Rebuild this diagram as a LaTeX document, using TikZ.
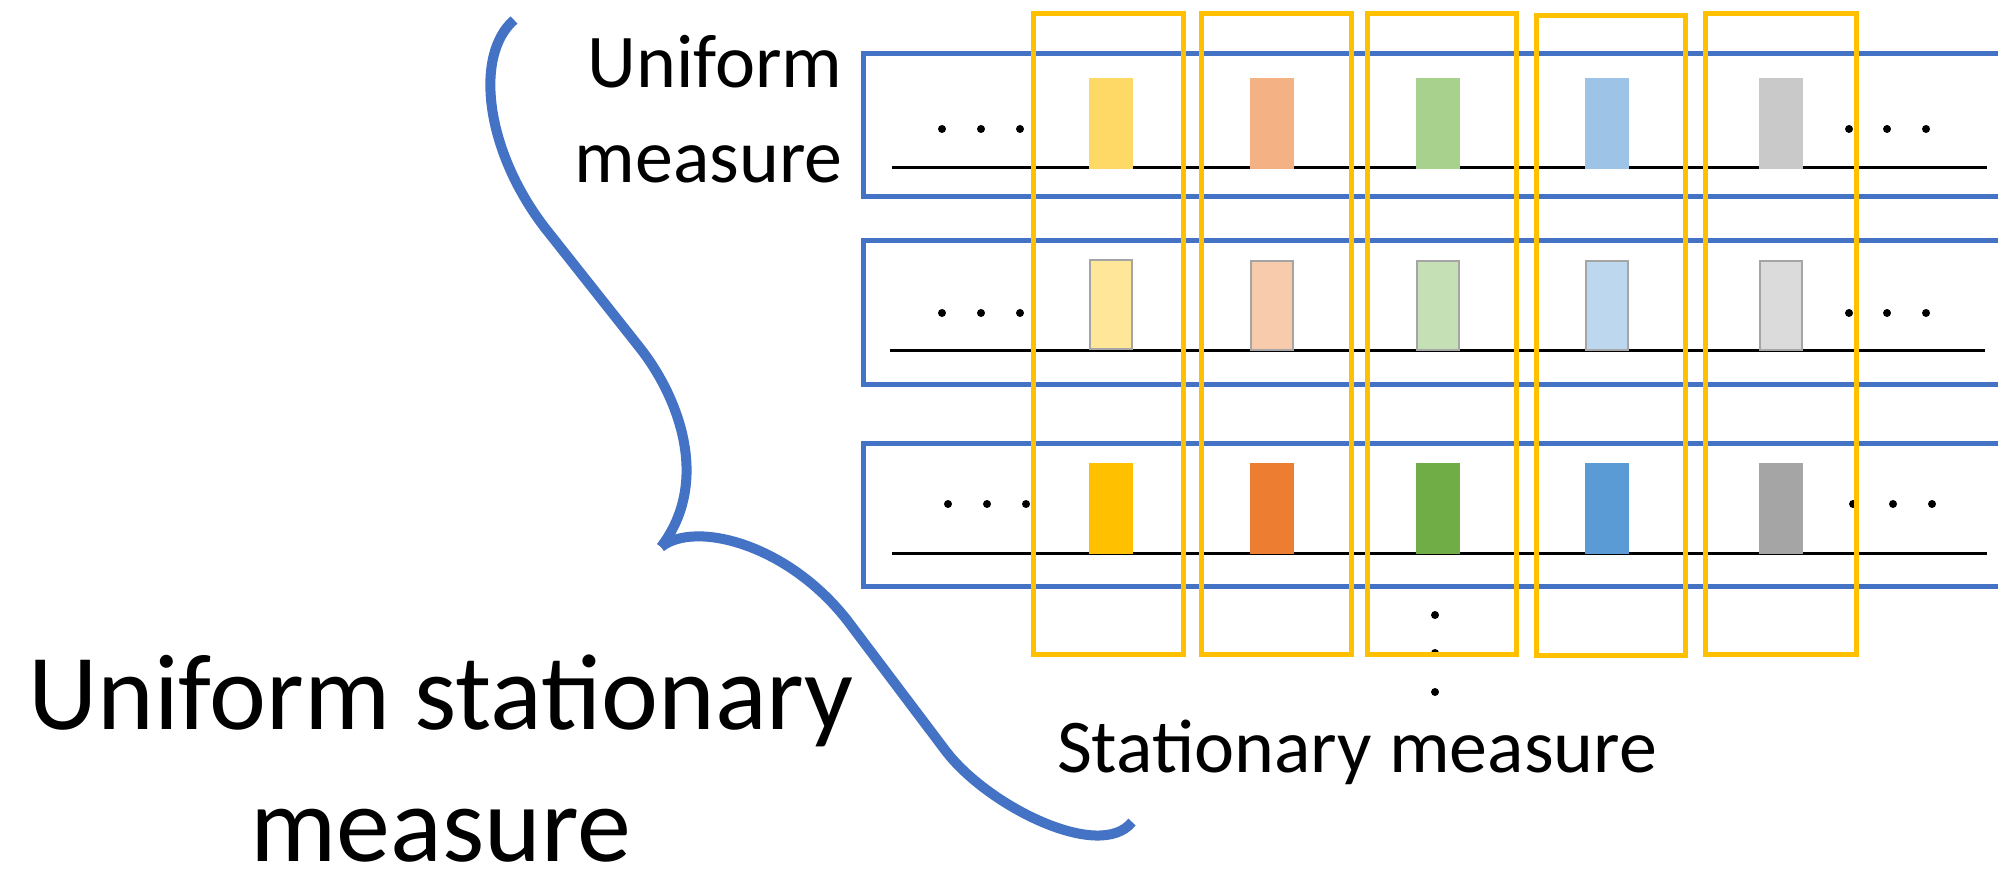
\documentclass[tikz,border=0pt]{standalone}
\usepackage{fontspec}
\setmainfont{Carlito}
\usepackage{tikz}
\usetikzlibrary{positioning}

\definecolor{rowblue}{HTML}{4472C4}
\definecolor{colgold}{HTML}{FFC000}
\definecolor{yelA}{HTML}{FFD966}
\definecolor{oraA}{HTML}{F4B183}
\definecolor{greA}{HTML}{A9D18E}
\definecolor{bluA}{HTML}{9DC3E6}
\definecolor{gryA}{HTML}{C9C9C9}
\definecolor{yelB}{HTML}{FFE699}
\definecolor{oraB}{HTML}{F8CBAD}
\definecolor{greB}{HTML}{C5E0B4}
\definecolor{bluB}{HTML}{BDD7EE}
\definecolor{gryB}{HTML}{DBDBDB}
\definecolor{yelC}{HTML}{FFC000}
\definecolor{oraC}{HTML}{ED7D31}
\definecolor{greC}{HTML}{70AD47}
\definecolor{bluC}{HTML}{5B9BD5}
\definecolor{gryC}{HTML}{A5A5A5}
\definecolor{barline}{HTML}{A5A5A5}

\begin{document}
\begin{tikzpicture}[x=0.01cm,y=-0.01cm,
  rowbox/.style={draw=rowblue,line width=0.05cm},
  colbox/.style={draw=colgold,line width=0.05cm},
  axis line/.style={line width=0.03cm},
  measbar/.style={minimum width=0.44cm,minimum height=0.91cm,inner sep=0,outer sep=0},
  paler/.style={measbar,draw=barline,line width=0.025cm,minimum width=0.42cm,minimum height=0.89cm},
  brace/.style={draw=rowblue,line width=0.1cm},
  small text/.style={font=\fontsize{21.6}{27}\selectfont,inner sep=0},
  big text/.style={font=\fontsize{30.7}{37.6}\selectfont,inner sep=0}]
\useasboundingbox (0,0) rectangle (1998,871);

% rows (open to the right)
\draw[rowbox] (1998,54) -| (863,197) -- (1998,197);
\draw[rowbox] (1998,241) -| (863,385) -- (1998,385);
\draw[rowbox] (1998,444) -| (863,587) -- (1998,587);

\draw[axis line] (892,168) -- (1987,168)
    (890,351) -- (1985,351)
    (892,554) -- (1987,554);

% first row
\node[measbar,fill=yelA] (b11) at (1111,123.5) {};
\node[measbar,fill=oraA] (b12) at (1272,123.5) {};
\node[measbar,fill=greA] (b13) at (1438,123.5) {};
\node[measbar,fill=bluA] (b14) at (1607,123.5) {};
\node[measbar,fill=gryA] (b15) at (1781,123.5) {};
% second row
\node[paler,fill=yelB] (b21) at (1111,304.5) {};
\node[paler,fill=oraB] (b22) at (1272,305.5) {};
\node[paler,fill=greB] (b23) at (1438,305.5) {};
\node[paler,fill=bluB] (b24) at (1607,305.5) {};
\node[paler,fill=gryB] (b25) at (1781,305.5) {};
% third row
\node[measbar,fill=yelC] (b31) at (1111,508.5) {};
\node[measbar,fill=oraC] (b32) at (1272,508.5) {};
\node[measbar,fill=greC] (b33) at (1438,508.5) {};
\node[measbar,fill=bluC] (b34) at (1607,508.5) {};
\node[measbar,fill=gryC] (b35) at (1781,508.5) {};

\fill (942,129) circle (4) (981,129) circle (4) (1020,129) circle (4)
    (1849,129) circle (4) (1887,129) circle (4) (1926,129) circle (4)
    (942,313) circle (4) (981,313) circle (4) (1020,313) circle (4)
    (1849,313) circle (4) (1887,313) circle (4) (1926,313) circle (4)
    (948,504) circle (4) (987,504) circle (4) (1026,504) circle (4)
    (1853,504) circle (4) (1893,504) circle (4) (1932,504) circle (4)
    (1435,615) circle (4) (1435,653) circle (4) (1435,692) circle (4);

% columns
\draw[colbox] (1033,14) rectangle (1183,655);
\draw[colbox] (1201,14) rectangle (1351,655);
\draw[colbox] (1367,14) rectangle (1516,655);
\draw[colbox] (1536,16) rectangle (1685,656);
\draw[colbox] (1705,14) rectangle (1856,655);

% brace
\draw[brace] (514,20) .. controls (474,55) and (485,150) .. (545,228)
    -- (640,348) .. controls (677,395) and (712,480) .. (661,547);
\draw[brace] (661,547) .. controls (695,520) and (790,544) .. (850,624)
    -- (945,750) .. controls (987,806) and (1100,862) .. (1132,822);

\node[small text,align=right,anchor=south east] (umeas) at (843,184) {Uniform\\measure};
\node[small text,anchor=base] (smeas) at (1357,773) {Stationary measure};
\node[big text,align=center,anchor=south] (usmeas) at (441,863) {Uniform stationary\\measure};
\end{tikzpicture}
\end{document}
